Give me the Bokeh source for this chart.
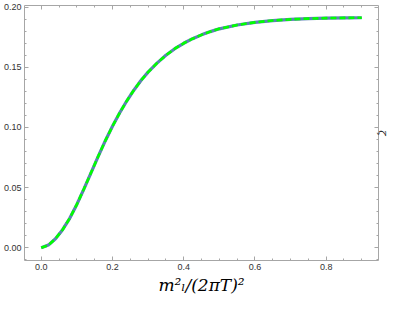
import numpy as np
from bokeh.plotting import figure
from bokeh.models import LinearAxis, Range1d, FixedTicker, CustomLabelingPolicy, Title
from bokeh.embed import file_html
from bokeh.resources import INLINE

# data
x_vals = [0.00, 0.02, 0.04, 0.06, 0.08, 0.10, 0.12, 0.14, 0.16, 0.18, 0.20, 0.22, 0.24,
          0.26, 0.28, 0.30, 0.325, 0.35, 0.375, 0.40, 0.425, 0.45, 0.475, 0.50, 0.55,
          0.60, 0.65, 0.70, 0.75, 0.80, 0.85, 0.90]
y_vals = [0.0000, 0.0022, 0.0075, 0.0150, 0.0245, 0.0360, 0.0490, 0.0625, 0.0760, 0.0890,
          0.1010, 0.1120, 0.1220, 0.1310, 0.1390, 0.1460, 0.1535, 0.1600, 0.1655, 0.1700,
          0.1738, 0.1770, 0.1797, 0.1820, 0.1852, 0.1874, 0.1889, 0.1899, 0.1905, 0.1909,
          0.1911, 0.1912]
x_ticks = [0.0, 0.2, 0.4, 0.6, 0.8]
y_ticks = [0.00, 0.05, 0.10, 0.15, 0.20]
x_label = "m²ₗ/(2πT)²"
right_label = "ζ"

frame_col = "#a6a6a6"
label_col = "#333333"

p = figure(width=388, height=294, output_backend="svg", toolbar_location=None,
           x_range=Range1d(-0.047, 0.947), y_range=Range1d(-0.0106, 0.2014),
           min_border_left=17, min_border_right=10, min_border_top=5, min_border_bottom=28,
           x_axis_location=None, y_axis_location=None)
p.grid.visible = False
p.outline_line_color = None
p.background_fill_color = "white"
p.border_fill_color = "white"

hide_all = CustomLabelingPolicy(code="""
for (let i = 0; i < indices.size; i++) {
  if (typeof indices.unset === "function") { indices.unset(i) } else { indices.set(i, false) }
}
return indices
""")


def style(ax, ticks, fmt, labels=True):
    ax.axis_line_color = frame_col
    ax.axis_line_width = 1
    ax.major_tick_line_color = frame_col
    ax.minor_tick_line_color = frame_col
    ax.major_tick_in = 4
    ax.major_tick_out = 0
    ax.minor_tick_in = 2
    ax.minor_tick_out = 0
    ax.major_label_text_font = "Liberation Sans"
    ax.major_label_text_font_size = "9px"
    ax.major_label_text_color = label_col
    if labels:
        ax.major_label_standoff = 3
        ax.major_label_overrides = {t: fmt.format(t) for t in ticks}
    else:
        ax.major_label_standoff = 0
        ax.major_label_overrides = {t: "" for t in ticks}
        ax.major_label_policy = hide_all


xt = FixedTicker(ticks=x_ticks, minor_ticks=list(np.round(np.arange(-0.05, 0.951, 0.05), 3)))
yt = FixedTicker(ticks=y_ticks, minor_ticks=list(np.round(np.arange(-0.01, 0.2011, 0.01), 3)))

bx = LinearAxis(ticker=xt)
style(bx, x_ticks, "{:.1f}")
p.add_layout(bx, "below")

ly = LinearAxis(ticker=yt)
style(ly, y_ticks, "{:.2f}")
p.add_layout(ly, "left")

tx = LinearAxis(ticker=xt)
style(tx, x_ticks, "", labels=False)
p.add_layout(tx, "above")

ry = LinearAxis(ticker=yt)
style(ry, y_ticks, "", labels=False)
p.add_layout(ry, "right")

p.line(x_vals, y_vals, line_color="#5E81B5", line_width=3.2)
p.line(x_vals, y_vals, line_color="#00FF00", line_width=2.6, line_dash="6 3")

xtitle = Title(text=x_label, align="center", text_font="DejaVu Serif",
               text_font_style="italic", text_font_size="17px", text_color="black",
               standoff=0, offset=0)
p.add_layout(xtitle, "below")

ztitle = Title(text=right_label, align="center", text_font="DejaVu Serif",
               text_font_style="italic", text_font_size="10px", text_color="black",
               standoff=-3, offset=0)
p.add_layout(ztitle, "right")

open("out.html", "w").write(file_html(p, INLINE))
